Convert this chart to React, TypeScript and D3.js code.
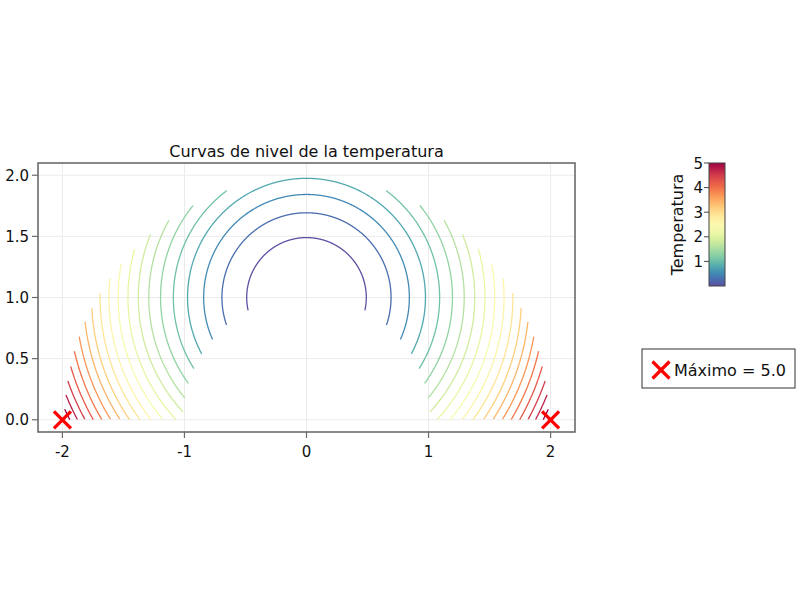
import React from "react";
import * as d3 from "d3";

// Contour levels of T(x,y) = x^2 + (y-1)^2 on the half annulus 1<=r<=2, y>=0
const levels = [0.24, 0.48, 0.71, 0.95, 1.19, 1.43, 1.67, 1.9, 2.14, 2.38, 2.62, 2.86, 3.1, 3.33, 3.57, 3.81, 4.05, 4.29, 4.52, 4.76];
const xTicks = [-2, -1, 0, 1, 2];
const yTicks = [0, 0.5, 1.0, 1.5, 2.0];
const cbTicks = [1, 2, 3, 4, 5];
const cbRange = [0, 5];
const maxPoints = [
  { x: -2, y: 0 },
  { x: 2, y: 0 },
];
const maxValue = 5.0;
const title = "Curvas de nivel de la temperatura";
const cbLabel = "Temperatura";

const FONT = "DejaVu Sans, sans-serif";

function arcSegments(level: number): [number, number][][] {
  const r = Math.sqrt(level);
  const segs: [number, number][][] = [];
  let cur: [number, number][] = [];
  const N = 1440;
  for (let i = 0; i <= N; i++) {
    const th = -Math.PI / 2 + (2 * Math.PI * i) / N;
    const x = r * Math.cos(th);
    const y = 1 + r * Math.sin(th);
    const d = Math.hypot(x, y);
    const inside = y >= 0 && d >= 1.012 && d <= 1.985;
    if (inside) cur.push([x, y]);
    else if (cur.length) {
      segs.push(cur);
      cur = [];
    }
  }
  if (cur.length) segs.push(cur);
  return segs;
}

export default function App() {
  const L = 38, R = 575, T = 163, B = 432;
  const x = d3.scaleLinear().domain([-2.2, 2.2]).range([L, R]);
  const y = d3.scaleLinear().domain([-0.1, 2.1]).range([B, T]);
  const cbColor = (v: number) => d3.interpolateSpectral(1 - (v - cbRange[0]) / (cbRange[1] - cbRange[0]));
  const lvExt = d3.extent(levels) as [number, number];
  const lineColor = (v: number) => d3.interpolateSpectral(1 - (v - lvExt[0]) / (lvExt[1] - lvExt[0]));
  const line = d3.line<[number, number]>().x((d) => x(d[0])).y((d) => y(d[1]));

  const cbX = 709, cbW = 16, cbT = 163, cbB = 286;
  const cy = d3.scaleLinear().domain(cbRange).range([cbB, cbT]);
  const stops = d3.range(0, 1.0001, 0.05);

  const spine = "#6b6b6b";
  const grid = "#ebebeb";

  return (
    <svg width={800} height={600} style={{ display: "block", position: "absolute", left: 0, top: 0 }} fontFamily={FONT}>
      <defs>
        <linearGradient id="cb" x1="0" y1="1" x2="0" y2="0">
          {stops.map((s) => (
            <stop key={s} offset={s} stopColor={cbColor(cbRange[0] + s * (cbRange[1] - cbRange[0]))} />
          ))}
        </linearGradient>
        <clipPath id="plotclip">
          <rect x={L} y={T} width={R - L} height={B - T} />
        </clipPath>
      </defs>
      <rect x={0} y={0} width={800} height={600} fill="#fff" />
      {/* grid */}
      {xTicks.map((t) => (
        <line key={"gx" + t} x1={x(t)} x2={x(t)} y1={T} y2={B} stroke={grid} strokeWidth={1} />
      ))}
      {yTicks.map((t) => (
        <line key={"gy" + t} x1={L} x2={R} y1={y(t)} y2={y(t)} stroke={grid} strokeWidth={1} />
      ))}
      {/* contours */}
      <g clipPath="url(#plotclip)">
        {levels.map((lv) =>
          arcSegments(lv).map((seg, i) => (
            <path key={lv + "-" + i} d={line(seg) || ""} fill="none" stroke={lineColor(lv)} strokeWidth={1.3} />
          ))
        )}
      </g>
      {/* max markers */}
      {maxPoints.map((p, i) => (
        <g key={"m" + i} stroke="#ff0000" strokeWidth={3.2}>
          <line x1={x(p.x) - 8.5} y1={y(p.y) - 8.5} x2={x(p.x) + 8.5} y2={y(p.y) + 8.5} />
          <line x1={x(p.x) - 8.5} y1={y(p.y) + 8.5} x2={x(p.x) + 8.5} y2={y(p.y) - 8.5} />
        </g>
      ))}
      {/* frame */}
      <rect x={L} y={T} width={R - L} height={B - T} fill="none" stroke={spine} strokeWidth={1.6} />
      {/* ticks */}
      {xTicks.map((t) => (
        <g key={"xt" + t}>
          <line x1={x(t)} x2={x(t)} y1={B} y2={B + 6} stroke={spine} strokeWidth={1.2} />
          <text x={x(t)} y={457} textAnchor="middle" fontSize={15} fill="#111">
            {String(t)}
          </text>
        </g>
      ))}
      {yTicks.map((t) => (
        <g key={"yt" + t}>
          <line x1={L - 6} x2={L} y1={y(t)} y2={y(t)} stroke={spine} strokeWidth={1.2} />
          <text x={29} y={y(t) + 5.5} textAnchor="end" fontSize={15} fill="#111">
            {d3.format(".1f")(t)}
          </text>
        </g>
      ))}
      <text x={(L + R) / 2} y={157} textAnchor="middle" fontSize={16} fill="#111">
        {title}
      </text>
      {/* colorbar */}
      <rect x={cbX} y={cbT} width={cbW} height={cbB - cbT} fill="url(#cb)" stroke="#444" strokeWidth={1} />
      {cbTicks.map((t) => (
        <g key={"ct" + t}>
          <line x1={cbX - 5} x2={cbX} y1={cy(t)} y2={cy(t)} stroke="#444" strokeWidth={1} />
          <text x={cbX - 6} y={cy(t) + 5.5} textAnchor="end" fontSize={15} fill="#111">
            {t}
          </text>
        </g>
      ))}
      <text transform={`translate(683, ${(cbT + cbB) / 2}) rotate(-90)`} textAnchor="middle" fontSize={16} fill="#111">
        {cbLabel}
      </text>
      {/* legend */}
      <rect x={642} y={349} width={153} height={39} fill="#fff" stroke="#333" strokeWidth={1} />
      <g stroke="#ff0000" strokeWidth={3.2}>
        <line x1={652.5} y1={361.5} x2={669.5} y2={378.5} />
        <line x1={652.5} y1={378.5} x2={669.5} y2={361.5} />
      </g>
      <text x={674} y={376} fontSize={16} fill="#111">
        {`Máximo = ${d3.format(".1f")(maxValue)}`}
      </text>
    </svg>
  );
}
